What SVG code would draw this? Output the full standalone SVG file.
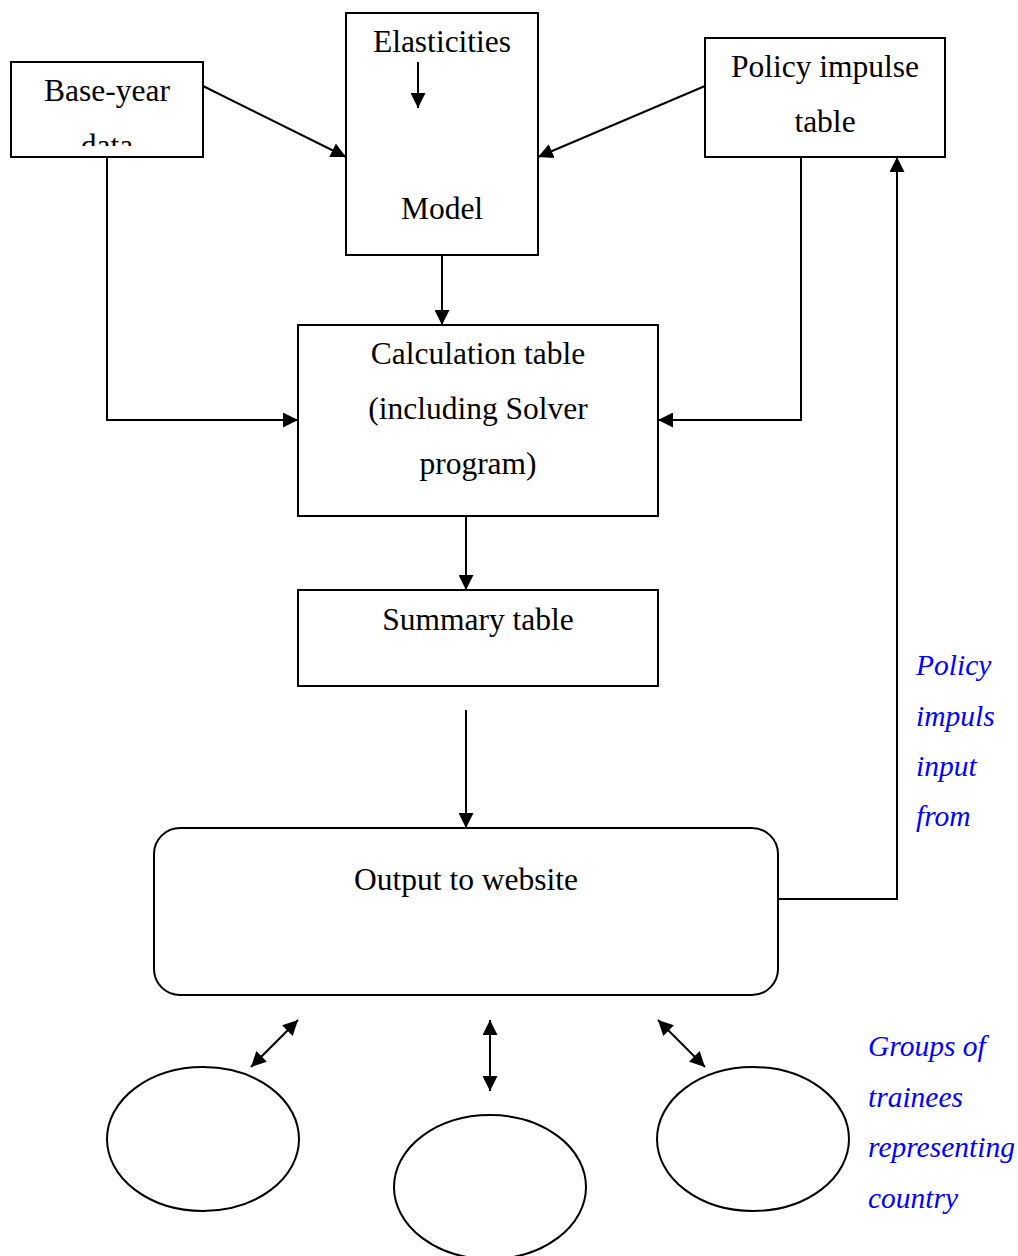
<svg xmlns="http://www.w3.org/2000/svg" width="1018" height="1256" viewBox="0 0 1018 1256">
<style>
.box{fill:#fff;stroke:#000;stroke-width:2}
.t{font-family:"Liberation Serif","Times New Roman",serif;font-size:31.5px;fill:#000;text-anchor:middle}
.b{font-family:"Liberation Serif","Times New Roman",serif;font-size:29.5px;fill:#0000ff;font-style:italic}
.c{fill:none;stroke:#000;stroke-width:2}
</style>
<defs>
<marker id="ah" viewBox="0 0 10 10" refX="10" refY="5" markerWidth="15" markerHeight="15" markerUnits="userSpaceOnUse" orient="auto-start-reverse">
<path d="M0,0 L10,5 L0,10 z" fill="#000"/>
</marker>
<clipPath id="clipBase"><rect x="11" y="62" width="192" height="84"/></clipPath>
</defs>
<rect width="1018" height="1256" fill="#fff"/>
<g id="connectors">
<line class="c" x1="203" y1="86" x2="346" y2="157" marker-end="url(#ah)"/>
<line class="c" x1="705" y1="86" x2="538" y2="157" marker-end="url(#ah)"/>
<line class="c" x1="442" y1="255" x2="442" y2="325" marker-end="url(#ah)"/>
<polyline class="c" points="107,157 107,420 298,420" marker-end="url(#ah)"/>
<polyline class="c" points="801,157 801,420 658,420" marker-end="url(#ah)"/>
<line class="c" x1="466" y1="516" x2="466" y2="590" marker-end="url(#ah)"/>
<line class="c" x1="466" y1="710" x2="466" y2="828" marker-end="url(#ah)"/>
<polyline class="c" points="778,899 897,899 897,157" marker-end="url(#ah)"/>
<line class="c" x1="251" y1="1067" x2="298" y2="1020" marker-start="url(#ah)" marker-end="url(#ah)"/>
<line class="c" x1="490" y1="1091" x2="490" y2="1020" marker-start="url(#ah)" marker-end="url(#ah)"/>
<line class="c" x1="705" y1="1067" x2="658" y2="1020" marker-start="url(#ah)" marker-end="url(#ah)"/>
</g>
<g id="base-year">
<rect class="box" x="11" y="62" width="192" height="95"/>
<g clip-path="url(#clipBase)">
<text class="t" x="107" y="101">Base-year</text>
<text class="t" x="107" y="156">data</text>
</g>
</g>
<g id="model">
<rect class="box" x="346" y="13" width="192" height="242"/>
<text class="t" x="442" y="52">Elasticities</text>
<line class="c" x1="418" y1="62" x2="418" y2="108" marker-end="url(#ah)"/>
<text class="t" x="442" y="219">Model</text>
</g>
<g id="policy-impulse">
<rect class="box" x="705" y="38" width="240" height="119"/>
<text class="t" x="825" y="77">Policy impulse</text>
<text class="t" x="825" y="132">table</text>
</g>
<g id="calculation">
<rect class="box" x="298" y="325" width="360" height="191"/>
<text class="t" x="478" y="364">Calculation table</text>
<text class="t" x="478" y="419">(including Solver</text>
<text class="t" x="478" y="474">program)</text>
</g>
<g id="summary">
<rect class="box" x="298" y="590" width="360" height="96"/>
<text class="t" x="478" y="630">Summary table</text>
</g>
<g id="output">
<rect class="box" x="154" y="828" width="624" height="167" rx="26" ry="26"/>
<text class="t" x="466" y="890">Output to website</text>
</g>
<g id="group-left"><ellipse class="box" cx="203" cy="1139" rx="96" ry="72"/></g>
<g id="group-mid"><ellipse class="box" cx="490" cy="1187" rx="96" ry="72"/></g>
<g id="group-right"><ellipse class="box" cx="753" cy="1139" rx="96" ry="72"/></g>
<g id="label-policy">
<text class="b" x="916" y="675">Policy</text>
<text class="b" x="916" y="726">impuls</text>
<text class="b" x="916" y="776">input</text>
<text class="b" x="916" y="826">from</text>
</g>
<g id="label-groups">
<text class="b" x="868" y="1056">Groups of</text>
<text class="b" x="868" y="1107">trainees</text>
<text class="b" x="868" y="1157">representing</text>
<text class="b" x="868" y="1208">country</text>
</g>
</svg>
